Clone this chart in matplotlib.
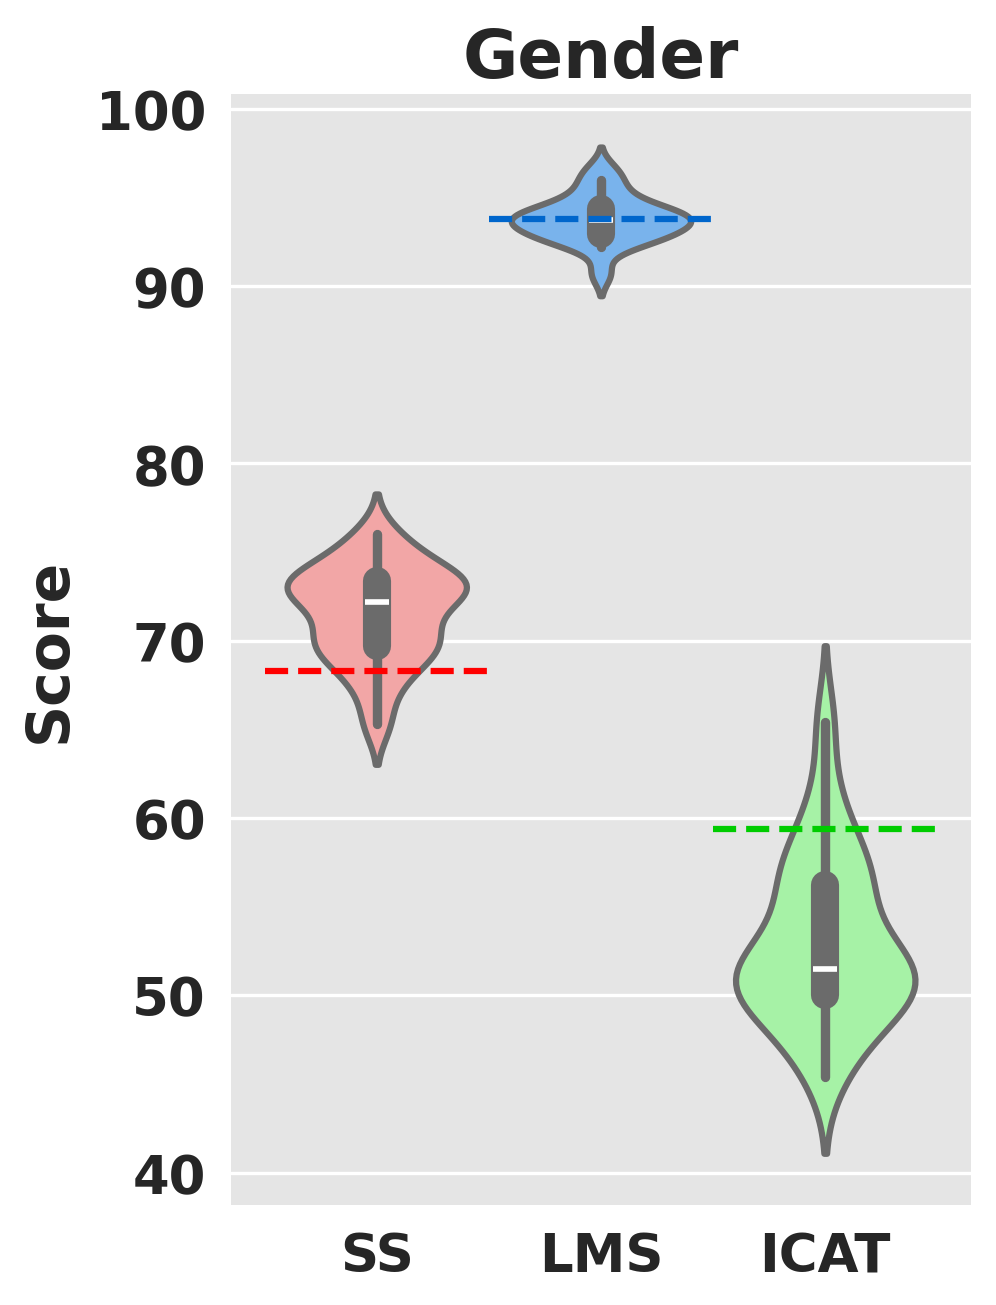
import matplotlib
matplotlib.use("Agg")
import matplotlib.pyplot as plt
import seaborn as sns

# ---------------- data ----------------
categories = ["SS", "LMS", "ICAT"]
ss_scores = [65.3, 67.2, 68.3, 69.0, 69.5, 69.8, 70.1, 70.6, 71.3, 71.9,
             72.5, 72.7, 72.9, 73.1, 73.3, 73.5, 73.9, 74.4, 75.1, 76.0]
lms_scores = [90.7, 92.2, 92.5, 92.7, 92.85, 93.0, 93.2, 93.4, 93.6, 93.7,
              93.8, 93.9, 94.0, 94.15, 94.3, 94.5, 94.9, 95.4, 96.0, 96.6]
icat_scores = [45.4, 46.8, 47.9, 48.7, 49.3, 49.7, 50.1, 50.5, 50.8, 51.1,
               51.3, 51.4, 51.6, 52.2, 52.9, 53.8, 55.4, 56.1, 56.5, 57.2,
               58.0, 59.2, 61.3, 65.4]
reference_scores = [68.3, 93.8, 59.4]
title_text = "Gender"
ylabel_text = "Score"
yticks = [40, 50, 60, 70, 80, 90, 100]

# ---------------- style ----------------
fill_colors = ["#ff9999", "#66b3ff", "#99ff99"]
ref_colors = ["#ff0000", "#0066cc", "#00cc00"]
bw_adjust = [0.75, 0.84, 0.85]

sns.set_theme(style="darkgrid", font_scale=1.2)
plt.rcParams["font.family"] = ["DejaVu Sans"]
plt.rcParams["font.weight"] = "bold"

fig = plt.figure(figsize=(3.32, 4.3533), dpi=300)
ax = fig.add_axes([0.2319, 0.0762, 0.7430, 0.8514])
ax.set_facecolor("#e5e5e5")

all_scores = [ss_scores, lms_scores, icat_scores]
for i, (cat, vals) in enumerate(zip(categories, all_scores)):
    sns.violinplot(x=[cat] * len(vals), y=vals, order=categories,
                   color=fill_colors[i], saturation=0.75,
                   linecolor="#6b6b6b", linewidth=1.5,
                   bw_adjust=bw_adjust[i], cut=2, inner="box",
                   density_norm="width", width=0.8, ax=ax)

for i, (ref, c) in enumerate(zip(reference_scores, ref_colors)):
    ax.plot([i - 0.5, i + 0.5], [ref, ref], linestyle="--", color=c,
            lw=1.5, zorder=6)

ax.set_xlim(-0.65, 2.65)
ax.set_ylim(38.14, 100.86)
ax.set_yticks(yticks)
ax.set_xticks(range(len(categories)))
ax.set_xticklabels(categories)
ax.grid(axis="y", color="white", lw=0.8)
ax.grid(axis="x", visible=False)
for s in ax.spines.values():
    s.set_visible(False)
ax.tick_params(axis="both", length=0, pad=6, labelsize=12.7,
               labelcolor="#262626")
for lab in ax.get_xticklabels() + ax.get_yticklabels():
    lab.set_fontweight("bold")
ax.set_xlabel("")
ax.set_ylabel(ylabel_text, fontsize=14.0, fontweight="bold",
              color="#262626", labelpad=4.3)
ax.set_title(title_text, fontsize=16.2, fontweight="bold",
             color="#262626", pad=4)

fig.savefig("out.png", dpi=300)
